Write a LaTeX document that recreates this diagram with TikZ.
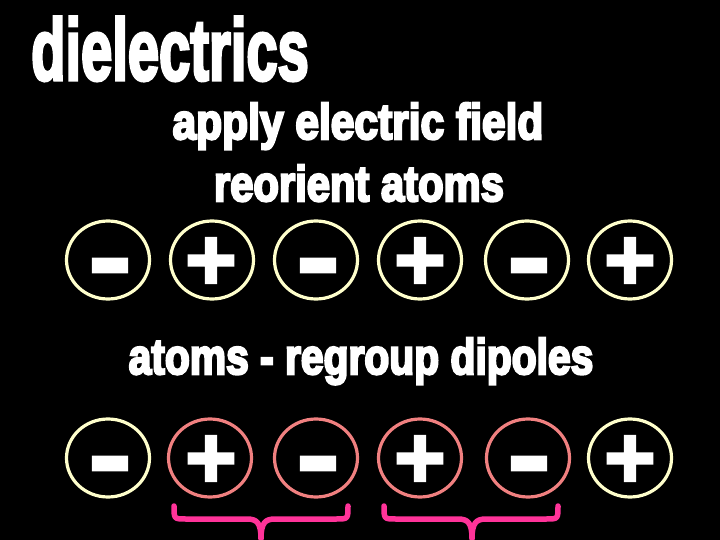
\documentclass[tikz,border=0pt]{standalone}
\usepackage{fontspec}
\usetikzlibrary{shapes.geometric}
\newfontfamily\titlefont{Liberation Sans Bold}[FakeBold=4]
\newfontfamily\bodyfont{Liberation Sans Bold}[FakeBold=5]
\newfontfamily\signfont{Liberation Sans Bold}[FakeBold=3]
\definecolor{cream}{HTML}{FFFFCC}
\definecolor{coral}{HTML}{F08080}
\definecolor{bracepink}{HTML}{FF3399}
\tikzset{
  atom/.style={draw=cream, line width=3.2pt, ellipse, minimum width=83pt, minimum height=78pt, inner sep=0pt},
  pairatom/.style={atom, draw=coral},
  sign/.style={text=white, inner sep=0pt, font=\signfont\fontsize{88}{88}\selectfont},
  label/.style={text=white, inner sep=0pt, anchor=base},
  grp/.style={draw=bracepink, line width=5.5pt, line cap=round, line join=round}
}
\newcommand{\pl}{+}
\newcommand{\mi}{\scalebox{1.45}[1.2]{-}}
\begin{document}
\begin{tikzpicture}[x=1pt,y=-1pt]
\fill[black] (0,0) rectangle (720,540);
\useasboundingbox (0,0) rectangle (720,540);

\node[label, anchor=base west, font=\titlefont\fontsize{87}{87}\selectfont] (title) at (31,80) {\scalebox{0.645}[1]{dielectrics}};
\node[label, font=\bodyfont\fontsize{50}{50}\selectfont] (l1) at (358,139) {\scalebox{0.85}[1]{apply electric field}};
\node[label, font=\bodyfont\fontsize{50}{50}\selectfont] (l2) at (359,201) {\scalebox{0.835}[1]{reorient atoms}};
\node[label, font=\bodyfont\fontsize{50}{50}\selectfont] (l3) at (361,374) {\scalebox{0.816}[1]{atoms - regroup dipoles}};

% row 1
\node[atom] (a1) at (108,260) {};
\node[atom] (a2) at (212,260) {};
\node[atom] (a3) at (316,260) {};
\node[atom] (a4) at (420,260) {};
\node[atom] (a5) at (527,260) {};
\node[atom] (a6) at (630,260) {};
\node[sign] (s1) at (110,276) {\mi};
\node[sign] (s2) at (211,264) {\pl};
\node[sign] (s3) at (318,276) {\mi};
\node[sign] (s4) at (420,264) {\pl};
\node[sign] (s5) at (529,276) {\mi};
\node[sign] (s6) at (630,264) {\pl};

% row 2
\node[atom] (b1) at (108,458) {};
\node[pairatom] (b2) at (210,458) {};
\node[pairatom] (b3) at (316,458) {};
\node[pairatom] (b4) at (420,458) {};
\node[pairatom] (b5) at (528,458) {};
\node[atom] (b6) at (630,458) {};
\node[sign] (t1) at (110,474) {\mi};
\node[sign] (t2) at (211,462) {\pl};
\node[sign] (t3) at (318,474) {\mi};
\node[sign] (t4) at (420,462) {\pl};
\node[sign] (t5) at (529,474) {\mi};
\node[sign] (t6) at (630,462) {\pl};

% braces
\coordinate (g1l) at (174,506);
\coordinate (g1r) at (348,506);
\coordinate (g1t) at (261,539);
\coordinate (g2l) at (384,506);
\coordinate (g2r) at (558,506);
\coordinate (g2t) at (472,539);
\draw[grp] (g1l) .. controls (174,519) and (174,519) .. (186,519) -- (247,519)
  .. controls (257,519) and (261,523) .. (g1t)
  .. controls (261,523) and (265,519) .. (275,519) -- (336,519)
  .. controls (348,519) and (348,519) .. (g1r);
\draw[grp] (g2l) .. controls (384,519) and (384,519) .. (396,519) -- (458,519)
  .. controls (468,519) and (472,523) .. (g2t)
  .. controls (472,523) and (476,519) .. (486,519) -- (546,519)
  .. controls (558,519) and (558,519) .. (g2r);
\end{tikzpicture}
\end{document}
